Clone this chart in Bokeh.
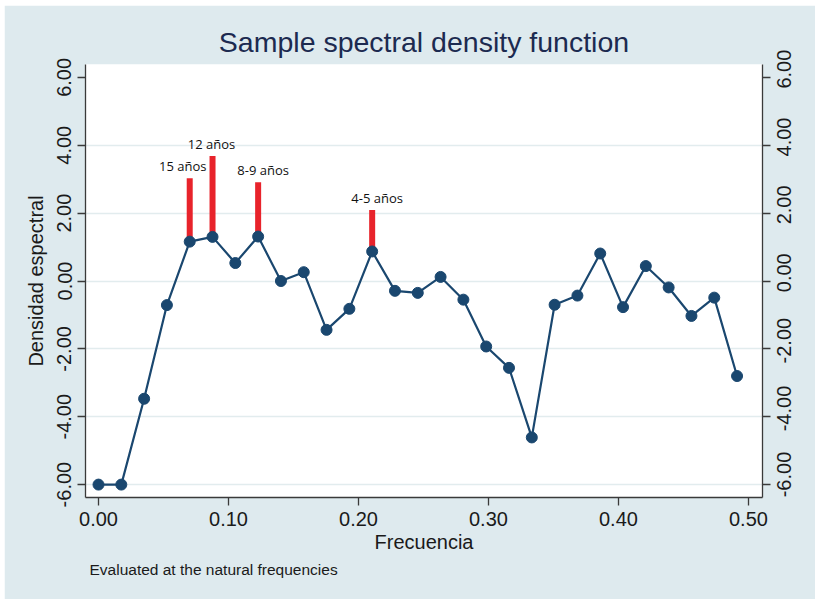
import math
from bokeh.plotting import figure
from bokeh.models import (LinearAxis, FixedTicker, NumeralTickFormatter, Range1d,
                          ColumnDataSource, Title)
from bokeh.core.properties import value
from bokeh.embed import file_html
from bokeh.resources import INLINE

# ---- data ----
n_obs = 57
freq_index = list(range(29))
density = [-6.00, -6.00, -3.47, -0.71, 1.16, 1.30, 0.53, 1.31, 0.00, 0.26,
           -1.44, -0.82, 0.87, -0.29, -0.35, 0.12, -0.55, -1.93, -2.56, -4.61,
           -0.70, -0.43, 0.81, -0.77, 0.44, -0.19, -1.03, -0.49, -2.80]
freq = [j / n_obs for j in freq_index]

peak_index = [4, 5, 7, 12]
peak_top = [3.03, 3.68, 2.91, 2.09]
peak_labels = ["15 años", "12 años", "8-9 años", "4-5 años"]
label_dx = [-7, -1, 5, 5]

x_ticks = [0.0, 0.1, 0.2, 0.3, 0.4, 0.5]
y_ticks = [-6, -4, -2, 0, 2, 4, 6]
y_tick_labels = ["-6.00", "-4.00", "-2.00", "0.00", "2.00", "4.00", "6.00"]
grid_ticks = [-6, -4, -2, 0, 2, 4]

title_text = "Sample spectral density function"
x_label = "Frecuencia"
y_label = "Densidad espectral"
note_text = "Evaluated at the natural frequencies"

# ---- style ----
BG = "#DEEAEE"
NAVY = "#1A476F"
RED = "#E8232B"
FONT = "Liberation Sans"
TXT = "#1A1A1A"
X0, X1 = -0.0100, 0.5108
Y0, Y1 = -6.38, 6.38

p = figure(width=811, height=594, output_backend="svg", toolbar_location=None,
           x_range=Range1d(X0, X1), y_range=Range1d(Y0, Y1),
           min_border_left=81, min_border_right=53, min_border_top=59,
           min_border_bottom=102)
p.background_fill_color = "white"
p.border_fill_color = BG
p.outline_line_color = None

p.title.text = title_text
p.title.text_font = FONT
p.title.text_font_size = "28.5px"
p.title.text_font_style = "normal"
p.title.text_color = "#1C2A50"
p.title.align = "center"
p.title.standoff = 13

# axes
fmt = NumeralTickFormatter(format="0.00")
p.xaxis.ticker = FixedTicker(ticks=x_ticks)
p.xaxis.formatter = fmt
p.xaxis.axis_label = x_label
p.yaxis.ticker = FixedTicker(ticks=y_ticks)
p.yaxis.formatter = fmt
p.yaxis.axis_label = y_label
p.yaxis.major_label_orientation = "vertical"

# right axis: real ticks drawn as minor ticks; rotated labels (anchored at their
# start) sit on slightly shifted major positions so that they look centred
label_shift = [0.33 + 0.10 * (len(lab) - 4) for lab in y_tick_labels]
label_pos = [max(t - s, Y0 + 0.005) for t, s in zip(y_ticks, label_shift)]
right = LinearAxis(ticker=FixedTicker(ticks=label_pos, minor_ticks=y_ticks))
right.major_label_overrides = {pos: lab for pos, lab in zip(label_pos, y_tick_labels)}
p.add_layout(right, "right")

for ax in p.xaxis + p.yaxis + [right]:
    ax.major_label_text_font = FONT
    ax.major_label_text_font_size = "20px"
    ax.major_label_text_color = TXT
    ax.axis_label_text_font = FONT
    ax.axis_label_text_font_size = "20px"
    ax.axis_label_text_font_style = "normal"
    ax.axis_label_text_color = TXT
    ax.axis_line_color = "#3A3A3A"
    ax.axis_line_width = 1.3
    ax.major_tick_line_color = "#3A3A3A"
    ax.major_tick_line_width = 1.3
    ax.major_tick_out = 8
    ax.major_tick_in = 0
    ax.minor_tick_line_color = None
    ax.major_label_standoff = 6
    ax.axis_label_standoff = 8
p.xaxis.axis_label_standoff = 2

right.major_tick_line_color = None
right.minor_tick_line_color = "#3A3A3A"
right.minor_tick_line_width = 1.3
right.minor_tick_out = 8
right.minor_tick_in = 0
right.major_label_standoff = 14
right.major_label_orientation = math.pi / 2

p.xgrid.grid_line_color = None
p.ygrid.ticker = FixedTicker(ticks=grid_ticks)
p.ygrid.grid_line_color = "#E2ECEE"
p.ygrid.grid_line_width = 1.5

# red peak bars
src_peak = ColumnDataSource(dict(
    x=[freq[j] for j in peak_index],
    y0=[density[j] for j in peak_index],
    y1=peak_top,
    label=peak_labels,
    dx=label_dx,
))
p.segment(x0="x", y0="y0", x1="x", y1="y1", source=src_peak,
          line_color=RED, line_width=6)
p.text(x="x", y="y1", text="label", source=src_peak, x_offset="dx", y_offset=-3,
       text_align="center", text_baseline="bottom",
       text_font=value("Open Sans"), text_font_size="13px", text_color="#111111")

# spectral density line
src = ColumnDataSource(dict(x=freq, y=density))
p.line("x", "y", source=src, line_color=NAVY, line_width=2.2)
p.scatter("x", "y", source=src, size=11, fill_color=NAVY, line_color=NAVY)

note = Title(text=note_text, align="left", text_font=FONT, text_font_size="15.5px",
             text_font_style="normal", text_color=TXT, offset=4, standoff=6)
p.add_layout(note, "below")

html = file_html(p, INLINE)
html = html.replace("<body>", "<body style=\"margin:0;padding:5px 0 0 4px;background:white;\">")
open("out.html", "w").write(html)
